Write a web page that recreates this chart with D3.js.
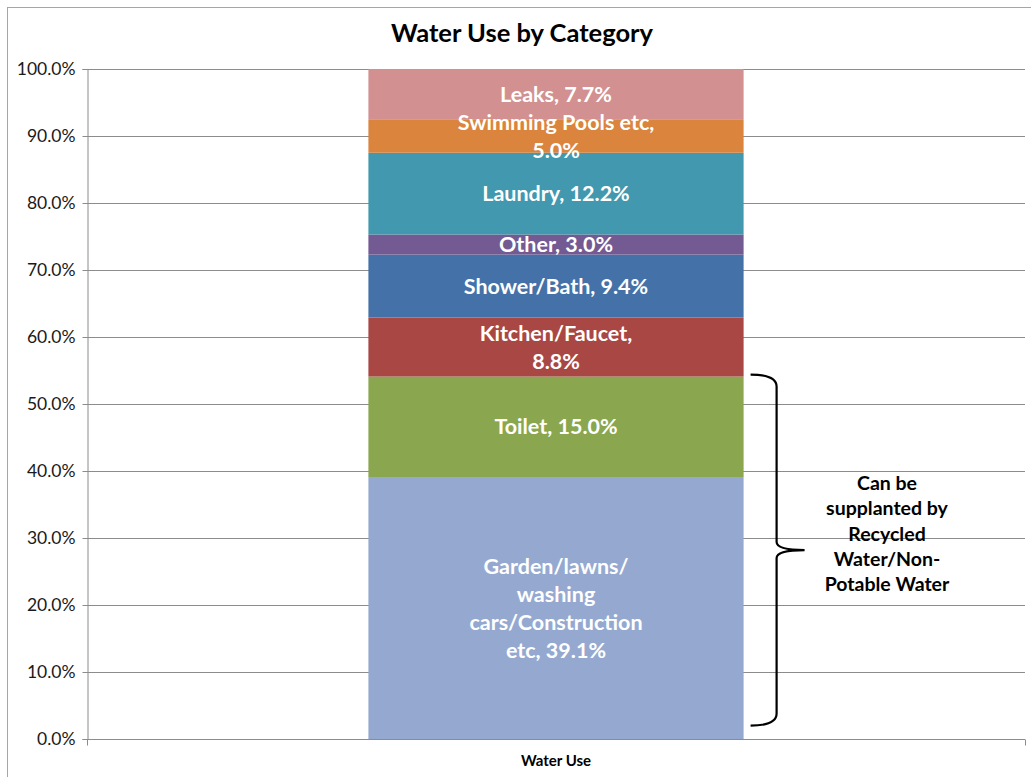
<!DOCTYPE html>
<html>
<head>
<meta charset="utf-8">
<script src="https://cdn.jsdelivr.net/npm/d3@7"></script>
<style>
  body { margin: 0; background: #fff; }
  svg { display: block; font-family: Lato, "Open Sans", sans-serif; }
</style>
</head>
<body>
<div class="chart"></div>
<script>
// data, bottom segment first
var categories = ["Garden/lawns/washing cars/Construction etc", "Toilet", "Kitchen/Faucet",
                  "Shower/Bath", "Other", "Laundry", "Swimming Pools etc", "Leaks"];
var values = [39.1, 15.0, 8.8, 9.4, 3.0, 12.2, 5.0, 7.7];
var labelLines = [
  ["Garden/lawns/", "washing", "cars/Construction", "etc, 39.1%"],
  ["Toilet, 15.0%"],
  ["Kitchen/Faucet,", "8.8%"],
  ["Shower/Bath, 9.4%"],
  ["Other, 3.0%"],
  ["Laundry, 12.2%"],
  ["Swimming Pools etc,", "5.0%"],
  ["Leaks, 7.7%"]
];
var colors = ["#95a9d0", "#8aa64f", "#a94745", "#4472a8", "#735a93", "#4298af", "#db843d", "#d29190"];
var yTicks = [0, 10, 20, 30, 40, 50, 60, 70, 80, 90, 100];
var seriesName = ["Water Use"];
var noteLines = ["Can be", "supplanted by", "Recycled", "Water/Non-", "Potable Water"];

drawchart();

function drawchart() {
  var svgWidth = 1031, svgHeight = 777;
  var margin = {top: 69, right: 6, bottom: 38, left: 87};
  var chart_width = svgWidth - margin.left - margin.right,
      chart_height = svgHeight - margin.top - margin.bottom;

  var svg = d3.select(".chart").append("svg")
      .attr("width", svgWidth)
      .attr("height", svgHeight);

  // outer chart border
  svg.append("rect")
    .attr("x", 7.5).attr("y", 7.5)
    .attr("width", svgWidth).attr("height", svgHeight)
    .attr("fill", "none").attr("stroke", "#a6a6a6");

  svg.append("text")
    .attr("x", 522).attr("y", 42)
    .attr("text-anchor", "middle")
    .attr("font-size", 25.5).attr("font-weight", "bold")
    .text("Water Use by Category");

  var g = svg.append("g")
    .attr("transform", "translate(" + margin.left + "," + margin.top + ")");

  var y = d3.scaleLinear().domain([0, 100]).range([chart_height, 0]);
  var x = d3.scaleBand().domain(seriesName).range([0, chart_width]).paddingInner(0.6).paddingOuter(0.3);

  // gridlines
  g.selectAll(".grid").data(yTicks.slice(1)).enter().append("line")
    .attr("x1", 0).attr("x2", chart_width)
    .attr("y1", function(d){ return Math.round(y(d)) + 0.5; })
    .attr("y2", function(d){ return Math.round(y(d)) + 0.5; })
    .attr("stroke", "#8c8c8c").attr("stroke-width", 1);

  // stacked segments
  var stacked = [];
  var acc = 0;
  values.forEach(function(v, i){
    stacked.push({ y0: acc, y1: Math.min(acc + v, 100), i: i });
    acc += v;
  });

  g.selectAll(".seg").data(stacked).enter().append("rect")
    .attr("x", x("Water Use"))
    .attr("width", x.bandwidth())
    .attr("y", function(d){ return y(d.y1); })
    .attr("height", function(d){ return y(d.y0) - y(d.y1); })
    .attr("fill", function(d){ return colors[d.i]; });

  // y axis
  var yAxis = d3.axisLeft(y).tickValues(yTicks).tickSize(5).tickPadding(7)
    .tickFormat(function(d){ return d.toFixed(1) + "%"; });
  var ya = g.append("g").attr("transform", "translate(0.5,0)").call(yAxis);
  ya.select(".domain").attr("stroke", "#8c8c8c");
  ya.selectAll(".tick line").attr("stroke", "#8c8c8c");
  ya.selectAll(".tick text").attr("font-size", 17.5).attr("fill", "#1a1a1a")
    .attr("font-family", "Lato, sans-serif");

  // x axis
  var xa = g.append("g").attr("transform", "translate(0," + (chart_height + 0.5) + ")");
  xa.append("line").attr("x1", 0).attr("x2", chart_width).attr("stroke", "#8c8c8c");
  xa.selectAll(".xt").data([0, chart_width]).enter().append("line")
    .attr("x1", function(d){ return d + 0.5; }).attr("x2", function(d){ return d + 0.5; })
    .attr("y1", 0).attr("y2", 6).attr("stroke", "#8c8c8c");
  xa.append("text")
    .attr("x", x("Water Use") + x.bandwidth() / 2).attr("y", 26)
    .attr("text-anchor", "middle").attr("font-size", 15).attr("font-weight", "bold")
    .text("Water Use");

  // segment labels
  var lh = 28;
  g.selectAll(".lbl").data(stacked).enter().append("text")
    .attr("text-anchor", "middle")
    .attr("font-size", 21.5).attr("font-weight", "bold").attr("fill", "#fff")
    .each(function(d){
      var lines = labelLines[d.i];
      var cy = (y(d.y0) + y(d.y1)) / 2;
      var t = d3.select(this);
      lines.forEach(function(s, k){
        t.append("tspan")
          .attr("x", x("Water Use") + x.bandwidth() / 2)
          .attr("y", cy + (k - (lines.length - 1) / 2) * lh + 7.5)
          .text(s);
      });
    });

  // curly brace over garden + toilet
  var bx = x("Water Use") + x.bandwidth() + 7;
  var top = y(values[0] + values[1]) - 2, bot = y(2), mid = (top + bot) / 2;
  var r = 8, w = 26, tip = 54;
  var path = "M" + bx + "," + top +
    " Q" + (bx + w) + "," + top + " " + (bx + w) + "," + (top + r + 4) +
    " L" + (bx + w) + "," + (mid - r) +
    " Q" + (bx + w) + "," + mid + " " + (bx + tip) + "," + mid +
    " Q" + (bx + w) + "," + mid + " " + (bx + w) + "," + (mid + r) +
    " L" + (bx + w) + "," + (bot - r - 4) +
    " Q" + (bx + w) + "," + bot + " " + bx + "," + bot;
  g.append("path").attr("d", path).attr("fill", "none")
    .attr("stroke", "#000").attr("stroke-width", 2.2);

  var note = g.append("text").attr("text-anchor", "middle")
    .attr("font-size", 19.5).attr("font-weight", "bold").attr("fill", "#000");
  noteLines.forEach(function(s, k){
    note.append("tspan").attr("x", 800).attr("y", 421 + k * 25.3).text(s);
  });
}
</script>
</body>
</html>
